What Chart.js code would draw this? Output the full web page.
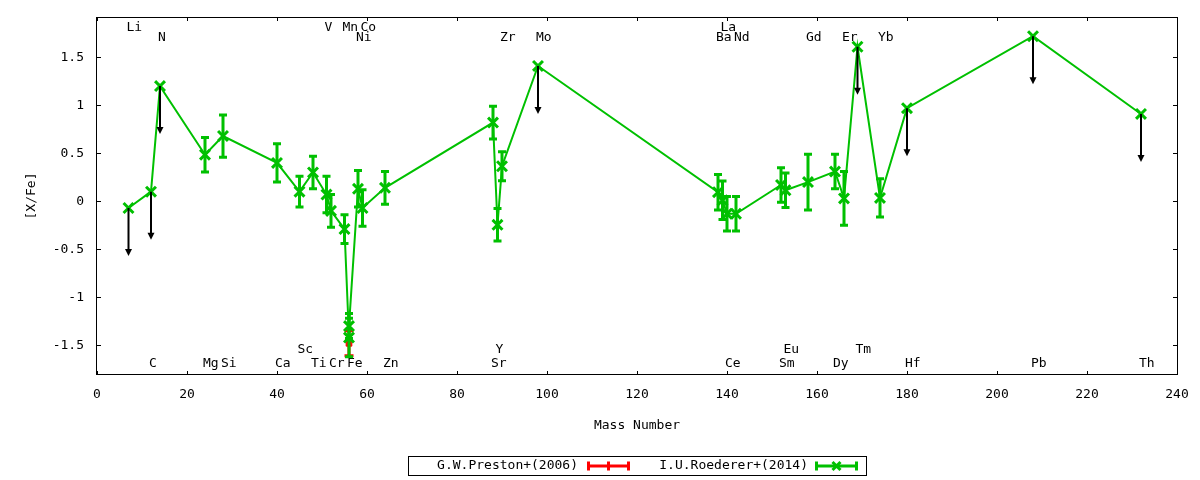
<!DOCTYPE html>
<html>
<head>
<meta charset="utf-8">
<script src="https://cdn.jsdelivr.net/npm/chart.js@4.4.1/dist/chart.umd.min.js"></script>
<style>
html,body{margin:0;padding:0;background:#fff;}
#wrap{width:1200px;height:480px;position:relative;}
</style>
</head>
<body>
<div id="wrap"><canvas id="c" width="1200" height="480"></canvas></div>
<script>
// ---------------- data ----------------
const elements = ['Li','C','N','Mg','Si','Ca','Sc','Ti','V','Cr','Mn','Fe','Fe','Ni','Co','Zn','Sr','Y','Zr','Mo','Ba','La','Ce','Nd','Sm','Eu','Gd','Dy','Er','Tm','Yb','Hf','Pb','Th'];
const massNumbers = [7,12,14,24,28,40,45,48,51,52,55,56,56,58,59,64,88,89,90,98,138,139,140,142,152,153,158,164,166,169,174,180,208,232];
const roedererXFe = [-0.07,0.10,1.20,0.485,0.68,0.40,0.10,0.30,0.07,-0.10,-0.29,-1.42,-1.30,0.13,-0.07,0.14,0.82,-0.245,0.365,1.41,0.095,0.01,-0.13,-0.13,0.17,0.115,0.20,0.31,0.03,1.61,0.035,0.97,1.72,0.91];
const roedererErr = [null,null,null,0.18,0.22,0.20,0.16,0.17,0.19,0.17,0.15,0.20,0.13,0.19,0.19,0.17,0.17,0.17,0.15,null,0.185,0.20,0.18,0.18,0.18,0.18,0.29,0.18,0.28,null,0.20,null,null,null];
const roedererLimitTo = [-0.57,-0.40,0.70,null,null,null,null,null,null,null,null,null,null,null,null,null,null,null,null,0.91,null,null,null,null,null,null,null,null,null,1.11,null,0.47,1.22,0.41];

const prestonElements = ['Fe'];
const prestonMass = [56];
const prestonXFe = [-1.48];
const prestonErr = [0.13];

const labelNames = ['Li','V','Mn','Co','La','N','Ni','Zr','Mo','Ba','Nd','Gd','Er','Yb','Sc','Y','Eu','Tm','C','Mg','Si','Ca','Ti','Cr','Fe','Zn','Sr','Ce','Sm','Dy','Hf','Pb','Th'];
const labelMass  = [7,51,55,59,139,14,58,90,98,138,142,158,166,174,45,89,153,169,12,24,28,40,48,52,56,64,88,140,152,164,180,208,232];
const labelRow   = [0,0,0,0,0,1,1,1,1,1,1,1,1,1,2,2,2,2,3,3,3,3,3,3,3,3,3,3,3,3,3,3,3];
const labelRowY  = [1.81,1.71,-1.55,-1.69];

const xTicks = [0,20,40,60,80,100,120,140,160,180,200,220,240];
const yTicks = [-1.5,-1,-0.5,0,0.5,1,1.5];

const legendLabels = ['G.W.Preston+(2006)','I.U.Roederer+(2014)'];

// ---------------- styles ----------------
const FONT = "'DejaVu Sans Mono', monospace";
const GREEN = '#00c000';
const RED = '#ff0000';

const roedererPoints = massNumbers.map((m,i)=>({x:m,y:roedererXFe[i]}));
const prestonPoints = prestonMass.map((m,i)=>({x:m,y:prestonXFe[i]}));

function drawErrBars(ctx, xs, ys, errs, sx, sy, color, lw, half){
  ctx.save();
  ctx.strokeStyle = color; ctx.lineWidth = lw; ctx.lineCap = 'butt';
  for(let i=0;i<xs.length;i++){
    if(errs[i]==null) continue;
    const px = sx.getPixelForValue(xs[i]);
    const top = sy.getPixelForValue(ys[i]+errs[i]);
    const bot = sy.getPixelForValue(ys[i]-errs[i]);
    ctx.beginPath();
    ctx.moveTo(px, top); ctx.lineTo(px, bot);
    ctx.moveTo(px-half, top); ctx.lineTo(px+half, top);
    ctx.moveTo(px-half, bot); ctx.lineTo(px+half, bot);
    ctx.stroke();
  }
  ctx.restore();
}

function drawX(ctx, cx, cy, r, lw, color){
  ctx.save();
  ctx.strokeStyle = color; ctx.lineWidth = lw;
  ctx.beginPath();
  ctx.moveTo(cx-r,cy-r); ctx.lineTo(cx+r,cy+r);
  ctx.moveTo(cx+r,cy-r); ctx.lineTo(cx-r,cy+r);
  ctx.stroke();
  ctx.restore();
}

const decorPlugin = {
  id: 'decor',
  beforeDatasetsDraw(chart){
    const {ctx, chartArea:a, scales:{x, y}} = chart;
    ctx.save();
    // frame
    ctx.strokeStyle = '#000'; ctx.lineWidth = 1;
    ctx.strokeRect(Math.round(a.left)-0.5, Math.round(a.top)+0.5, Math.round(a.right-a.left)+1, Math.round(a.bottom-a.top)-1);
    // inward ticks (mirrored)
    const tl = 4;
    ctx.beginPath();
    xTicks.forEach(v=>{
      const p = Math.round(x.getPixelForValue(v))+0.5;
      ctx.moveTo(p, a.bottom); ctx.lineTo(p, a.bottom-tl);
      ctx.moveTo(p, a.top); ctx.lineTo(p, a.top+tl);
    });
    yTicks.forEach(v=>{
      const p = Math.round(y.getPixelForValue(v))+0.5;
      ctx.moveTo(a.left, p); ctx.lineTo(a.left+tl, p);
      ctx.moveTo(a.right, p); ctx.lineTo(a.right-tl, p);
    });
    ctx.stroke();
    // element labels
    ctx.fillStyle = '#000';
    ctx.font = '13px ' + FONT;
    ctx.textAlign = 'left';
    ctx.textBaseline = 'middle';
    labelNames.forEach((name,i)=>{
      const px = x.getPixelForValue(labelMass[i]) - 2;
      const py = y.getPixelForValue(labelRowY[labelRow[i]]);
      ctx.fillText(name, px, py);
    });
    ctx.restore();
  },
  afterDatasetDraw(chart, args){
    const {ctx, scales:{x, y}} = chart;
    if(args.index === 1){
      drawErrBars(ctx, prestonMass, prestonXFe, prestonErr, x, y, RED, 3, 4.5);
    } else if(args.index === 0){
      drawErrBars(ctx, massNumbers, roedererXFe, roedererErr, x, y, GREEN, 3, 4);
    }
  },
  afterDatasetsDraw(chart){
    const {ctx, scales:{x, y}} = chart;
    ctx.save();
    ctx.strokeStyle = '#000'; ctx.fillStyle = '#000'; ctx.lineWidth = 2;
    for(let i=0;i<massNumbers.length;i++){
      if(roedererLimitTo[i]==null) continue;
      const px = x.getPixelForValue(massNumbers[i]);
      const y0 = y.getPixelForValue(roedererXFe[i]);
      const y1 = y.getPixelForValue(roedererLimitTo[i]);
      ctx.beginPath(); ctx.moveTo(px, y0); ctx.lineTo(px, y1-4); ctx.stroke();
      ctx.beginPath();
      ctx.moveTo(px, y1); ctx.lineTo(px-3.5, y1-7); ctx.lineTo(px+3.5, y1-7); ctx.closePath();
      ctx.fill();
    }
    ctx.restore();
  },
  afterDraw(chart){
    const {ctx, chartArea:a} = chart;
    ctx.save();
    const cx = (a.left + a.right)/2;
    const bx = Math.round(cx - 229), bw = 458, by = 456, bh = 19;
    ctx.strokeStyle = '#000'; ctx.lineWidth = 1;
    ctx.strokeRect(bx+0.5, by+0.5, bw, bh);
    ctx.font = '13px ' + FONT;
    ctx.fillStyle = '#000';
    ctx.textAlign = 'right'; ctx.textBaseline = 'middle';
    const ly = by + bh/2 + 0.5;
    // Preston entry
    ctx.fillText(legendLabels[0], bx + 170, ly);
    let s0 = bx + 179, s1 = bx + 222;
    ctx.strokeStyle = RED; ctx.lineWidth = 3;
    ctx.beginPath();
    ctx.moveTo(s0, ly); ctx.lineTo(s1, ly);
    ctx.moveTo(s0+1.5, ly-4.5); ctx.lineTo(s0+1.5, ly+4.5);
    ctx.moveTo(s1-1.5, ly-4.5); ctx.lineTo(s1-1.5, ly+4.5);
    ctx.moveTo((s0+s1)/2, ly-4.5); ctx.lineTo((s0+s1)/2, ly+4.5);
    ctx.stroke();
    // Roederer entry
    ctx.fillStyle = '#000';
    ctx.fillText(legendLabels[1], bx + 400, ly);
    s0 = bx + 407; s1 = bx + 450;
    ctx.strokeStyle = GREEN; ctx.lineWidth = 3;
    ctx.beginPath();
    ctx.moveTo(s0, ly); ctx.lineTo(s1, ly);
    ctx.moveTo(s0+1.5, ly-4.5); ctx.lineTo(s0+1.5, ly+4.5);
    ctx.moveTo(s1-1.5, ly-4.5); ctx.lineTo(s1-1.5, ly+4.5);
    ctx.stroke();
    drawX(ctx, (s0+s1)/2, ly, 4, 3, GREEN);
    ctx.restore();
  }
};

Chart.defaults.font.family = FONT;
Chart.defaults.font.size = 13;
Chart.defaults.color = '#000';

new Chart(document.getElementById('c'), {
  type: 'scatter',
  data: {
    datasets: [
      {
        label: legendLabels[1],
        data: roedererPoints,
        showLine: true,
        borderColor: GREEN,
        backgroundColor: GREEN,
        borderWidth: 2,
        pointStyle: 'crossRot',
        pointRadius: 7,
        pointBorderWidth: 3,
        pointBorderColor: GREEN,
        tension: 0
      },
      {
        label: legendLabels[0],
        data: prestonPoints,
        showLine: false,
        borderColor: RED,
        backgroundColor: RED,
        pointStyle: 'rect',
        pointRadius: 4,
        pointBorderWidth: 1
      }
    ]
  },
  options: {
    responsive: false,
    animation: false,
    devicePixelRatio: 1,
    layout: { padding: { left: 0, right: 23, top: 17, bottom: 43 } },
    plugins: {
      legend: { display: false },
      tooltip: { enabled: false }
    },
    scales: {
      x: {
        type: 'linear',
        min: 0, max: 240,
        grid: { display: false, drawTicks: false },
        border: { display: false },
        afterBuildTicks: (s)=>{ s.ticks = xTicks.map(v=>({value:v})); },
        afterFit: (s)=>{ s.height = 62; s.paddingLeft = 0; s.paddingRight = 0; },
        ticks: { padding: 12, maxRotation: 0, autoSkip: false, callback: (v)=>String(v), font:{size:13, family:FONT} },
        title: { display: true, text: 'Mass Number', padding: { top: 0, bottom: 4 }, font:{size:13, family:FONT} }
      },
      y: {
        type: 'linear',
        min: -1.81, max: 1.92,
        grid: { display: false, drawTicks: false },
        border: { display: false },
        afterBuildTicks: (s)=>{ s.ticks = yTicks.map(v=>({value:v})); },
        afterFit: (s)=>{ s.width = 97; s.paddingTop = 0; s.paddingBottom = 0; },
        ticks: { padding: 13, autoSkip: false, callback: (v)=>String(v), font:{size:13, family:FONT} },
        title: { display: true, text: '[X/Fe]', padding: { top: 24, bottom: 0 }, font:{size:13, family:FONT} }
      }
    }
  },
  plugins: [decorPlugin]
});
</script>
</body>
</html>
